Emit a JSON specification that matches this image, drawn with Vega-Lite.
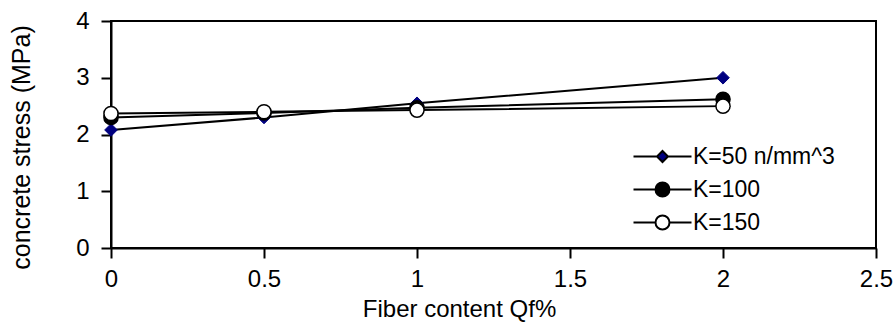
{
  "$schema": "https://vega.github.io/schema/vega-lite/v6.json",
  "width": 765,
  "height": 227,
  "autosize": {"type": "none"},
  "padding": {"left": 111, "top": 21, "right": 20, "bottom": 76},
  "background": "white",
  "config": {
    "view": {"stroke": "black", "strokeWidth": 2},
    "font": "Liberation Sans",
    "axis": {
      "labelFont": "Liberation Sans",
      "titleFont": "Liberation Sans",
      "labelColor": "black",
      "titleColor": "black",
      "grid": false,
      "domainColor": "black",
      "tickColor": "black",
      "domainWidth": 2,
      "tickWidth": 2,
      "titleFontWeight": "normal",
      "labelFontSize": 24,
      "titleFontSize": 24
    }
  },
  "data": {
    "values": [
      {"series": "K=50 n/mm^3", "qf": 0, "stress": 2.08},
      {"series": "K=50 n/mm^3", "qf": 0.5, "stress": 2.3},
      {"series": "K=50 n/mm^3", "qf": 1, "stress": 2.55},
      {"series": "K=50 n/mm^3", "qf": 2, "stress": 3.0},
      {"series": "K=100", "qf": 0, "stress": 2.3},
      {"series": "K=100", "qf": 0.5, "stress": 2.38},
      {"series": "K=100", "qf": 1, "stress": 2.47},
      {"series": "K=100", "qf": 2, "stress": 2.62},
      {"series": "K=150", "qf": 0, "stress": 2.37},
      {"series": "K=150", "qf": 0.5, "stress": 2.4},
      {"series": "K=150", "qf": 1, "stress": 2.43},
      {"series": "K=150", "qf": 2, "stress": 2.5}
    ]
  },
  "encoding": {
    "x": {
      "field": "qf",
      "type": "quantitative",
      "scale": {"domain": [0, 2.5], "nice": false, "zero": false},
      "axis": {
        "title": "Fiber content Qf%",
        "values": [0, 0.5, 1, 1.5, 2, 2.5],
        "format": "~g",
        "tickSize": 10,
        "labelPadding": 9,
        "titleX": 348,
        "titleY": 49,
        "titleBaseline": "top",
        "labelFlush": false,
        "labelOverlap": false
      }
    },
    "y": {
      "field": "stress",
      "type": "quantitative",
      "scale": {"domain": [0, 4], "nice": false},
      "axis": {
        "title": "concrete stress (MPa)",
        "titleFontSize": 25,
        "values": [0, 1, 2, 3, 4],
        "tickSize": 10,
        "labelPadding": 12,
        "titleX": -77,
        "titleY": 126,
        "labelFlush": false,
        "labelOverlap": false
      }
    }
  },
  "layer": [
    {
      "mark": {"type": "line", "color": "black", "strokeWidth": 2},
      "encoding": {"detail": {"field": "series"}}
    },
    {
      "transform": [{"filter": "datum.series === 'K=50 n/mm^3'"}],
      "mark": {"type": "point", "shape": "diamond", "filled": true, "fill": "#000080", "stroke": "#000080", "strokeWidth": 1, "size": 160, "opacity": 1}
    },
    {
      "transform": [{"filter": "datum.series === 'K=100'"}],
      "mark": {"type": "point", "shape": "circle", "filled": true, "fill": "black", "stroke": "black", "strokeWidth": 1.5, "size": 200, "opacity": 1}
    },
    {
      "transform": [{"filter": "datum.series === 'K=150'"}],
      "mark": {"type": "point", "shape": "circle", "filled": true, "fill": "white", "stroke": "black", "strokeWidth": 1.5, "size": 200, "opacity": 1}
    },
    {
      "mark": {"type": "point", "filled": true, "opacity": 0},
      "encoding": {
        "shape": {
          "field": "series",
          "type": "nominal",
          "scale": {
            "domain": ["K=50 n/mm^3", "K=100", "K=150"],
            "range": [
              "M-2.9,0H-0.55M0.55,0H2.9M0,-0.55L0.55,0L0,0.55L-0.55,0Z",
              "M-2.9,0H-0.7M0.7,0H2.9M0.7,0A0.7,0.7,0,1,1,-0.7,0A0.7,0.7,0,1,1,0.7,0Z",
              "M-2.9,0H-0.7M0.7,0H2.9M0.7,0A0.7,0.7,0,1,1,-0.7,0A0.7,0.7,0,1,1,0.7,0Z"
            ]
          },
          "legend": {
            "title": null,
            "orient": "none",
            "legendX": 540,
            "legendY": 124,
            "padding": 0,
            "labelFont": "Liberation Sans",
            "labelFontSize": 23,
            "labelColor": "black",
            "labelOffset": 19,
            "rowPadding": 9,
            "symbolSize": 400,
            "symbolStrokeWidth": 2,
            "symbolStrokeColor": "black",
            "symbolOpacity": 1,
            "labelLimit": 300,
            "encode": {
              "symbols": {
                "update": {
                  "stroke": {"value": "black"},
                  "strokeWidth": {"value": 2},
                  "opacity": {"value": 1}
                }
              }
            }
          }
        },
        "fill": {
          "field": "series",
          "type": "nominal",
          "scale": {
            "domain": ["K=50 n/mm^3", "K=100", "K=150"],
            "range": ["#000080", "black", "white"]
          },
          "legend": {
            "title": null,
            "orient": "none",
            "legendX": 540,
            "legendY": 124,
            "padding": 0,
            "labelFont": "Liberation Sans",
            "labelFontSize": 23,
            "labelColor": "black",
            "labelOffset": 19,
            "rowPadding": 9,
            "symbolSize": 400,
            "symbolStrokeWidth": 2,
            "symbolStrokeColor": "black",
            "symbolOpacity": 1,
            "labelLimit": 300,
            "encode": {
              "symbols": {
                "update": {
                  "stroke": {"value": "black"},
                  "strokeWidth": {"value": 2},
                  "opacity": {"value": 1}
                }
              }
            }
          }
        }
      }
    }
  ]
}
